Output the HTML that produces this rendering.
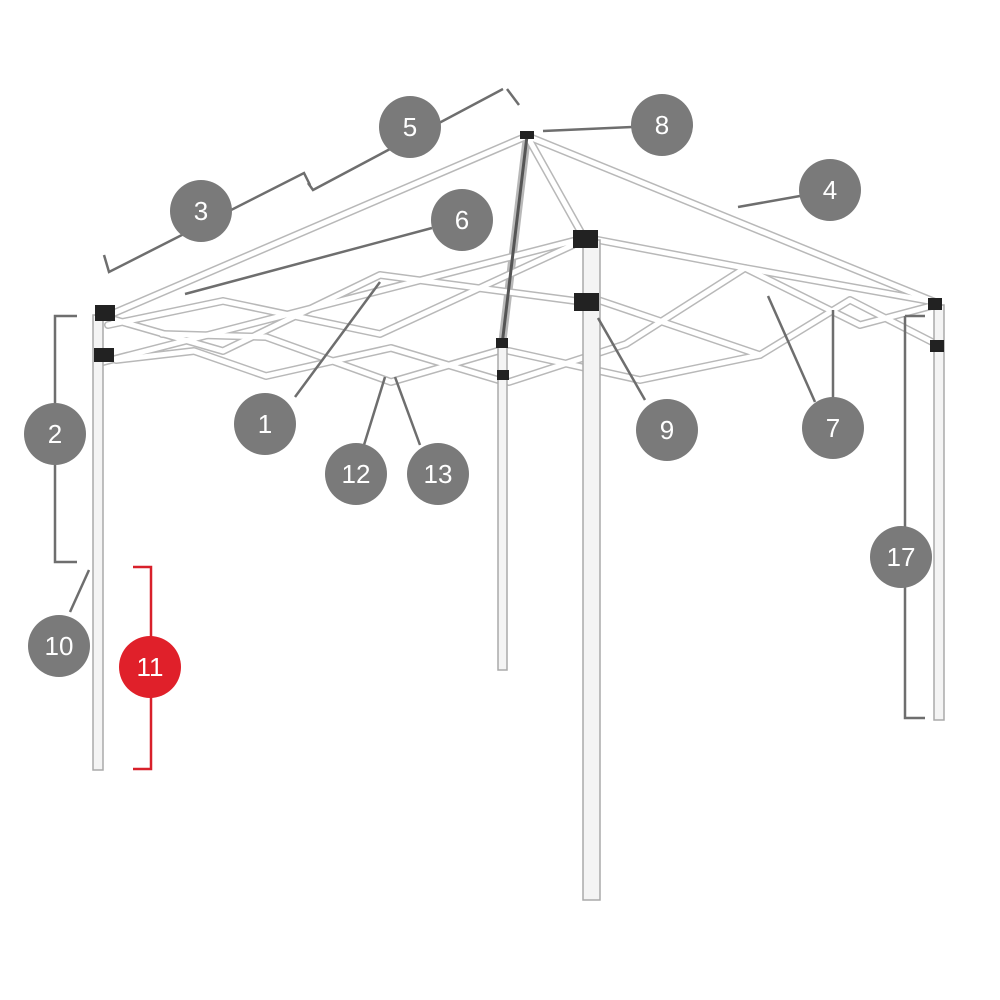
<!DOCTYPE html>
<html><head><style>
body{margin:0;background:#fff}
svg{display:block}
text{font-family:"Liberation Sans",sans-serif;font-size:26px;fill:#fff;text-anchor:middle}
</style></head><body>
<svg width="1000" height="1000" viewBox="0 0 1000 1000">
<g fill="none" stroke-linecap="round" stroke-linejoin="round">
<!-- frame bars: outline then white -->
<g id="bars" stroke="#b8b8b8" stroke-width="8">
<path d="M527,136 L107,316 M527,136 L583,236 M527,136 L935,302 M527,136 L502,345"/>
<path d="M103,362 L573,241 M112,319 L223,351 L380,275 L576,301 M223,301 L380,334 L573,245 M108,325 L223,301"/>
<path d="M116,360 L194,351 L266,376 L391,348 L505,382 M162,334 L266,337 L391,382 L501,350"/>
<path d="M509,382 L626,344 L745,268 L860,325 L935,305 M509,351 L640,380 L760,355 L850,300 L938,345"/>
<path d="M598,240 L745,268 L935,302 M598,300 L760,355"/>
</g>
<g stroke="#fff" stroke-width="5">
<path d="M527,136 L107,316 M527,136 L583,236 M527,136 L935,302"/>
<path d="M103,362 L573,241 M112,319 L223,351 L380,275 L576,301 M223,301 L380,334 L573,245 M108,325 L223,301"/>
<path d="M116,360 L194,351 L266,376 L391,348 L505,382 M162,334 L266,337 L391,382 L501,350"/>
<path d="M509,382 L626,344 L745,268 L860,325 L935,305 M509,351 L640,380 L760,355 L850,300 L938,345"/>
<path d="M598,240 L745,268 L935,302 M598,300 L760,355"/>
</g>
<path d="M527,136 L502,345" stroke="#555" stroke-width="3"/>
</g>
<!-- legs -->
<g fill="#f4f4f4" stroke="#aaa" stroke-width="1.5">
<rect x="93" y="315" width="10" height="455"/>
<rect x="498" y="345" width="9" height="325"/>
<rect x="583" y="240" width="17" height="660"/>
<rect x="934" y="305" width="10" height="415"/>
</g>
<g fill="#222">
<rect x="95" y="305" width="20" height="16"/><rect x="94" y="348" width="20" height="14"/>
<rect x="573" y="230" width="25" height="18"/><rect x="574" y="293" width="25" height="18"/>
<rect x="496" y="338" width="12" height="10"/><rect x="497" y="370" width="12" height="10"/>
<rect x="928" y="298" width="14" height="12"/><rect x="930" y="340" width="14" height="12"/>
<rect x="520" y="131" width="14" height="8"/>
</g>
<!-- leaders and brackets -->
<g fill="none" stroke="#6e6e6e" stroke-width="2.5">
<path d="M308,183 L313,190 L503,89 M507,89 L519,105"/>
<path d="M104,255 L109,272 L304,173 L310,185"/>
<path d="M77,316 L55,316 L55,562 L77,562"/>
<path d="M905,316 L905,718 L925,718 M905,316 L925,316"/>
<path d="M543,131 L632,127 M738,207 L800,196 M185,294 L432,228"/>
<path d="M380,282 L295,397 M385,377 L364,445 M395,377 L420,445"/>
<path d="M598,318 L645,400 M768,296 L815,402 M833,310 L833,398"/>
<path d="M89,570 L70,612"/>
</g>
<path d="M133,567 L151,567 L151,769 L133,769" fill="none" stroke="#d8202a" stroke-width="2.5"/>
<!-- circles -->
<g fill="#7a7a7a">
<circle cx="410" cy="127" r="31"/><circle cx="662" cy="125" r="31"/>
<circle cx="830" cy="190" r="31"/><circle cx="201" cy="211" r="31"/>
<circle cx="462" cy="220" r="31"/><circle cx="265" cy="424" r="31"/>
<circle cx="55" cy="434" r="31"/><circle cx="356" cy="474" r="31"/>
<circle cx="438" cy="474" r="31"/><circle cx="667" cy="430" r="31"/>
<circle cx="833" cy="428" r="31"/><circle cx="901" cy="557" r="31"/>
<circle cx="59" cy="646" r="31"/>
</g>
<circle cx="150" cy="667" r="31" fill="#e0202a"/>
<g>
<text x="410" y="136">5</text><text x="662" y="134">8</text>
<text x="830" y="199">4</text><text x="201" y="220">3</text>
<text x="462" y="229">6</text><text x="265" y="433">1</text>
<text x="55" y="443">2</text><text x="356" y="483">12</text>
<text x="438" y="483">13</text><text x="667" y="439">9</text>
<text x="833" y="437">7</text><text x="901" y="566">17</text>
<text x="59" y="655">10</text><text x="150" y="676">11</text>
</g>
</svg>
</body></html>
